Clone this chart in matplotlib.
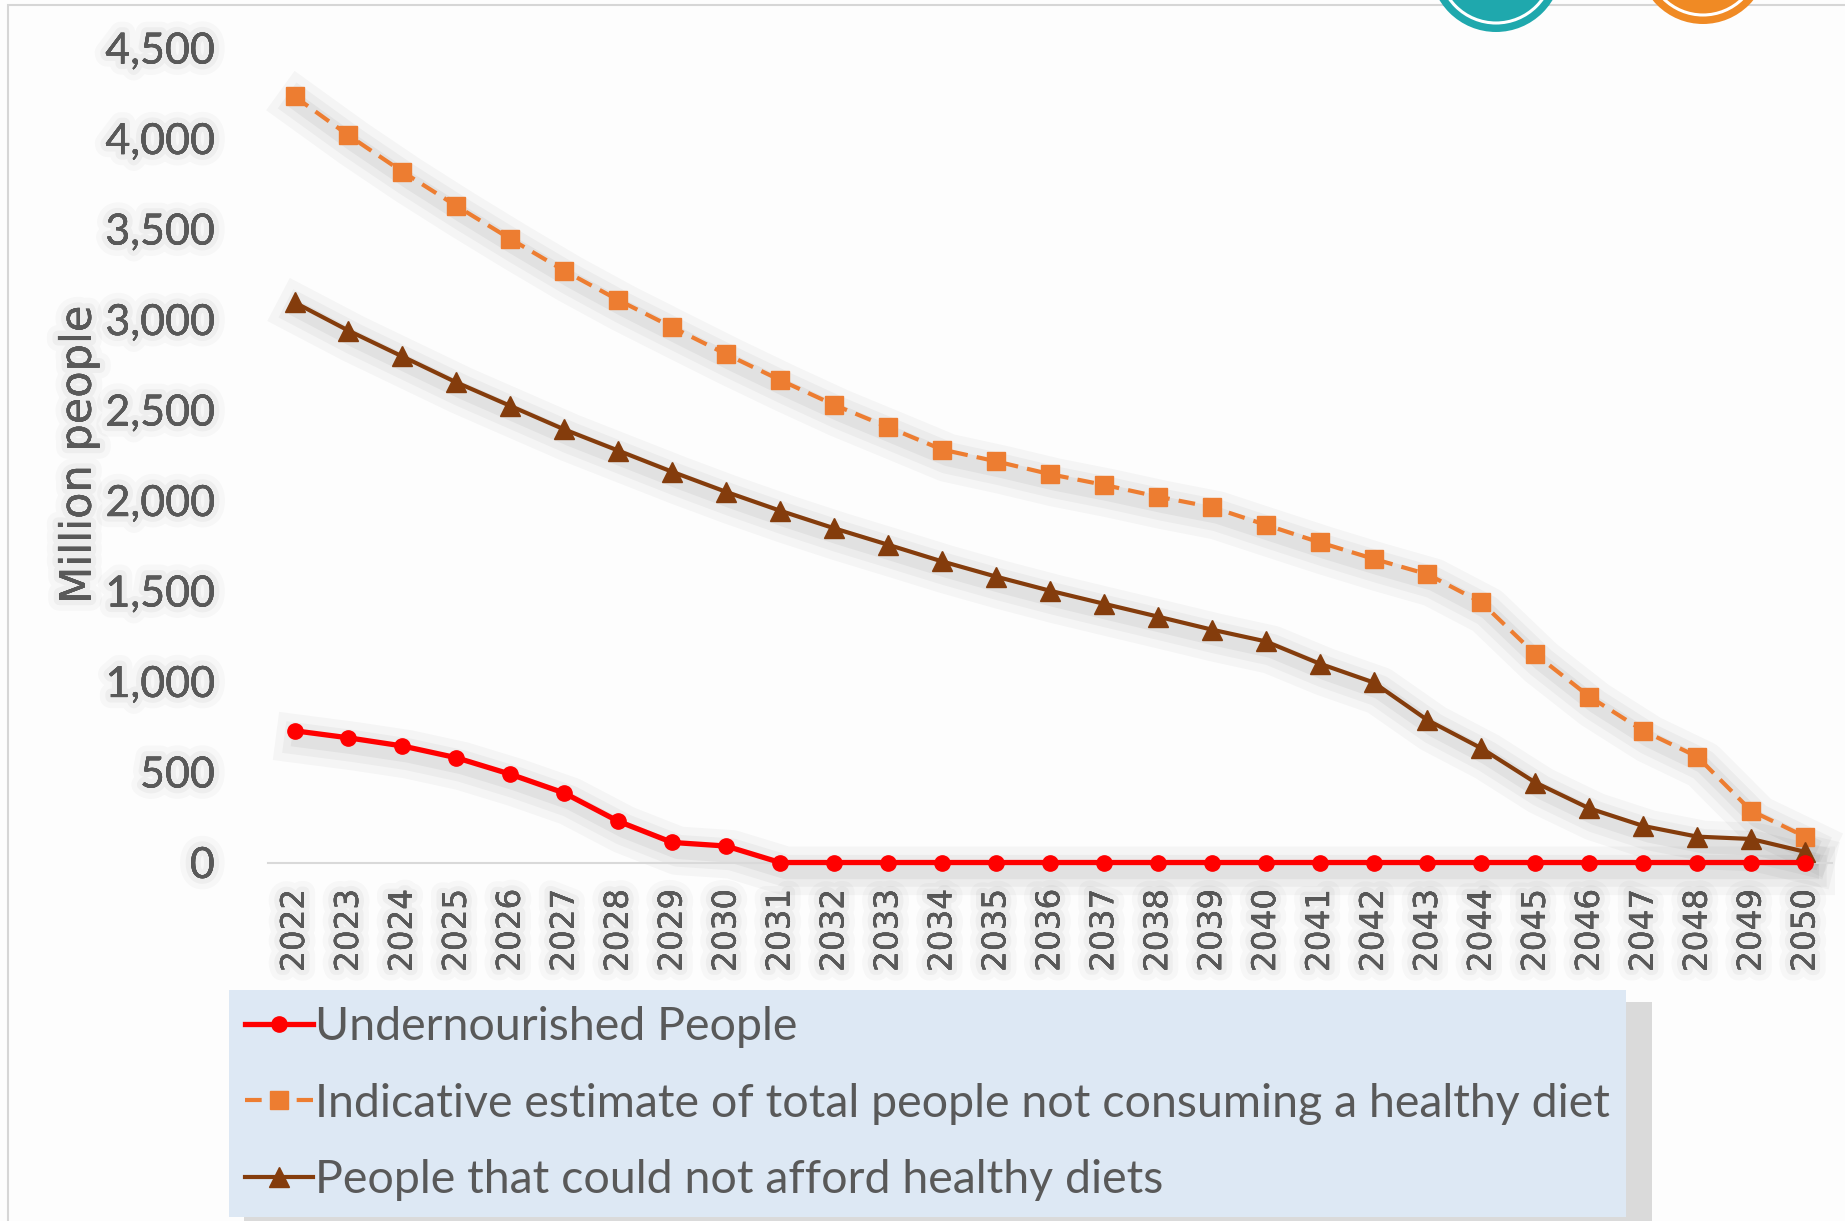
import matplotlib.pyplot as plt
import matplotlib.patheffects as pe
from matplotlib.patches import Ellipse, Rectangle

years = [str(y) for y in range(2022, 2051)]

undernourished = [728, 689, 644, 579, 488, 384, 228, 111, 91,
                  0, 0, 0, 0, 0, 0, 0, 0, 0, 0, 0, 0, 0, 0, 0, 0, 0, 0, 0, 0]
not_healthy = [4233, 4018, 3817, 3628, 3446, 3270, 3108, 2958, 2809, 2666,
               2529, 2406, 2282, 2217, 2146, 2087, 2022, 1964, 1866, 1769,
               1678, 1593, 1437, 1151, 917, 728, 585, 286, 143]
cannot_afford = [3095, 2939, 2796, 2653, 2523, 2393, 2276, 2159, 2048, 1944,
                 1847, 1756, 1664, 1580, 1502, 1430, 1359, 1287, 1222, 1099,
                 995, 787, 631, 442, 299, 202, 143, 130, 59]

y_ticks = [0, 500, 1000, 1500, 2000, 2500, 3000, 3500, 4000, 4500]

labels = ["Undernourished People",
          "Indicative estimate of total people not consuming a healthy diet",
          "People that could not afford healthy diets"]

grey = '#595959'


# soft blurred-looking shadow, drawn on a separate marker-less line
def shadow(w):
    return [pe.SimpleLineShadow(offset=(4, -6), shadow_color='k', alpha=0.03, linewidth=w + 32),
            pe.SimpleLineShadow(offset=(4, -6), shadow_color='k', alpha=0.035, linewidth=w + 20),
            pe.SimpleLineShadow(offset=(4, -6), shadow_color='k', alpha=0.045, linewidth=w + 9)]

text_shadow = [pe.withStroke(linewidth=16, foreground=(0, 0, 0, 0.025)),
               pe.withStroke(linewidth=8, foreground=(0, 0, 0, 0.035)),
               pe.Normal()]

fig = plt.figure(figsize=(18.45, 12.21), dpi=100, facecolor='#fdfdfd')
ax = fig.add_axes([0.145, 0.2936, 0.848, 0.667])
ax.set_facecolor('none')

x = list(range(len(years)))
for ys in (undernourished, not_healthy, cannot_afford):
    ax.plot(x, ys, '-', color='none', lw=3, path_effects=shadow(3), zorder=2, clip_on=False)

l1, = ax.plot(x, undernourished, '-', color='#ff0000', lw=3.8, marker='o', ms=11,
              label=labels[0], zorder=5, clip_on=False)
l2, = ax.plot(x, not_healthy, '--', color='#ed7d31', lw=3.0, marker='s', ms=13,
              dashes=(4, 2.2), label=labels[1], zorder=4, clip_on=False)
l3, = ax.plot(x, cannot_afford, '-', color='#843c0c', lw=3.0, marker='^', ms=14,
              label=labels[2], zorder=4, clip_on=False)

ax.set_xlim(-0.5, len(years) - 0.5)
ax.set_ylim(0, 4500)
ax.set_xticks(x)
ax.set_xticklabels(years, rotation=90, fontsize=23.5, color=grey, family='DejaVu Sans')
ax.set_yticks(y_ticks)
ax.set_yticklabels(['{:,}'.format(v) for v in y_ticks], fontsize=31, color=grey, family='Lato')
for t in ax.get_yticklabels() + ax.get_xticklabels():
    t.set_path_effects(text_shadow)
ax.tick_params(axis='both', length=0)
ax.tick_params(axis='y', pad=38)
ax.tick_params(axis='x', pad=19)
for s in ['top', 'right', 'left']:
    ax.spines[s].set_visible(False)
ax.spines['bottom'].set_color('#d9d9d9')
ax.spines['bottom'].set_linewidth(1.5)
ax.set_ylabel('Million people', fontsize=31, color=grey, family='DejaVu Sans', labelpad=4)
ax.yaxis.label.set_path_effects(text_shadow)

# legend with a drop shadow behind it
fig.patches.append(Rectangle((244 / 1845, -0.05), 1408 / 1845, 1 - 1002 / 1221 + 0.05,
                             transform=fig.transFigure, facecolor='#8c8c8c', alpha=0.3,
                             edgecolor='none', zorder=1))
leg = fig.legend(handles=[l1, l2, l3], loc='upper left',
                 bbox_to_anchor=(229 / 1845, 1 - 990 / 1221),
                 frameon=True, fancybox=False, facecolor='#dde8f4', edgecolor='none',
                 framealpha=1, prop={'family': 'Lato', 'size': 33.5}, labelcolor=grey,
                 handlelength=1.45, handletextpad=0.05, labelspacing=0.74,
                 borderpad=0.35, borderaxespad=0)

# figure frame
fig.patches.append(Rectangle((8 / 1845, -0.1), 2, 1.1 - 5 / 1221, transform=fig.transFigure,
                             fill=False, edgecolor='#d6d6d6', lw=1.5))

# partially visible logos at top right
for cx, cy, r, col in [(1496, -34, 66, '#1fa8ad'), (1703, -41, 65, '#f08a24')]:
    fig.patches.append(Ellipse((cx / 1845, 1 - cy / 1221), 2 * r / 1845, 2 * r / 1221,
                               transform=fig.transFigure, facecolor=col, edgecolor='none'))
    fig.patches.append(Ellipse((cx / 1845, 1 - cy / 1221), 2 * (r - 9) / 1845, 2 * (r - 9) / 1221,
                               transform=fig.transFigure, facecolor='none', edgecolor='white', lw=2.2))

fig.savefig('out.png', dpi=100, facecolor=fig.get_facecolor())
